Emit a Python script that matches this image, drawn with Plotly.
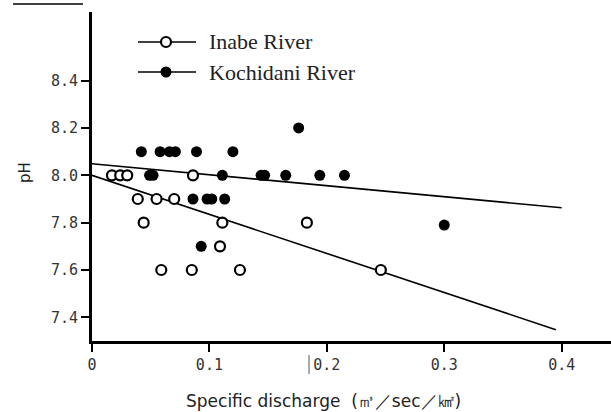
import plotly.graph_objects as go

# Inabe River (open circles)
inabe_x = [0.017, 0.024, 0.030, 0.086, 0.039, 0.055, 0.070, 0.044, 0.111, 0.109,
           0.059, 0.085, 0.126, 0.183, 0.246]
inabe_y = [8.0, 8.0, 8.0, 8.0, 7.9, 7.9, 7.9, 7.8, 7.8, 7.7,
           7.6, 7.6, 7.6, 7.8, 7.6]

# Kochidani River (filled circles)
koch_x = [0.042, 0.058, 0.066, 0.071, 0.089, 0.120, 0.049, 0.052, 0.111,
          0.086, 0.098, 0.102, 0.113, 0.093, 0.144, 0.147, 0.165, 0.176,
          0.194, 0.215, 0.300]
koch_y = [8.1, 8.1, 8.1, 8.1, 8.1, 8.1, 8.0, 8.0, 8.0,
          7.9, 7.9, 7.9, 7.9, 7.7, 8.0, 8.0, 8.0, 8.2,
          8.0, 8.0, 7.79]

# Regression lines (endpoints)
inabe_line_x = [0.0, 0.395]
inabe_line_y = [8.0, 7.348]
koch_line_x = [0.0, 0.40]
koch_line_y = [8.049, 7.863]

x_ticks = [0, 0.1, 0.2, 0.3, 0.4]
x_labels = ["0", "0.1", "0.2", "0.3", "0.4"]
y_ticks = [7.4, 7.6, 7.8, 8.0, 8.2, 8.4]
y_labels = ["7.4", "7.6", "7.8", "8.0", "8.2", "8.4"]

series_names = ["Inabe River", "Kochidani River"]

W, H = 611, 412
l, r, t, b = 92, 0, 12, 71
pw, ph = W - l - r, H - t - b


def px_x(p):
    return (p - l) / pw


def px_y(p):
    return (H - b - p) / ph


open_marker = dict(symbol="circle", size=10, color="white",
                   line=dict(color="black", width=2.2))
filled_marker = dict(symbol="circle", size=11, color="black",
                     line=dict(color="black", width=0))

fig = go.Figure()
fig.add_trace(go.Scatter(x=inabe_line_x, y=inabe_line_y, mode="lines",
                         line=dict(color="black", width=1.6), showlegend=False))
fig.add_trace(go.Scatter(x=koch_line_x, y=koch_line_y, mode="lines",
                         line=dict(color="black", width=1.6), showlegend=False))
fig.add_trace(go.Scatter(x=inabe_x, y=inabe_y, mode="markers", name=series_names[0],
                         marker=open_marker, showlegend=False))
fig.add_trace(go.Scatter(x=koch_x, y=koch_y, mode="markers", name=series_names[1],
                         marker=filled_marker, showlegend=False))

# Manual legend (line + marker + text), positioned in pixels
legend_rows = [(42, open_marker, series_names[0]), (72, filled_marker, series_names[1])]
shapes = []
annotations = []
for ypix, mk, name in legend_rows:
    shapes.append(dict(type="line", xref="paper", yref="paper",
                       x0=px_x(138), x1=px_x(196), y0=px_y(ypix), y1=px_y(ypix),
                       line=dict(color="black", width=1.6)))
    rad = 5.5
    if mk["color"] == "white":
        shapes.append(dict(type="circle", xref="paper", yref="paper",
                           x0=px_x(166 - 5), x1=px_x(166 + 5),
                           y0=px_y(ypix + 5), y1=px_y(ypix - 5),
                           fillcolor="white", line=dict(color="black", width=2.2)))
    else:
        shapes.append(dict(type="circle", xref="paper", yref="paper",
                           x0=px_x(166 - rad), x1=px_x(166 + rad),
                           y0=px_y(ypix + rad), y1=px_y(ypix - rad),
                           fillcolor="black", line=dict(color="black", width=0)))
    annotations.append(dict(text=name, x=px_x(207), y=px_y(ypix), xref="paper",
                            yref="paper", xanchor="left", yanchor="middle",
                            showarrow=False,
                            font=dict(family="Liberation Serif", size=22, color="#222")))

annotations.append(dict(text="pH", x=px_x(25), y=px_y(173), xref="paper", yref="paper",
                        xanchor="center", yanchor="middle", showarrow=False,
                        textangle=-90,
                        font=dict(family="DejaVu Sans", size=15, color="#222")))
annotations.append(dict(text="Specific discharge  (㎥／sec／㎢)", x=px_x(323), y=px_y(401),
                        xref="paper", yref="paper", xanchor="center", yanchor="middle",
                        showarrow=False,
                        font=dict(family="DejaVu Sans", size=17, color="#222")))

# scan artifacts
shapes.append(dict(type="line", xref="paper", yref="paper",
                   x0=px_x(13), x1=px_x(83), y0=px_y(4), y1=px_y(4),
                   line=dict(color="black", width=1.5)))
shapes.append(dict(type="line", xref="paper", yref="paper",
                   x0=px_x(309), x1=px_x(309), y0=px_y(355), y1=px_y(374),
                   line=dict(color="#555", width=1)))

tickfont = dict(family="DejaVu Sans Mono", size=15, color="#333")
fig.update_layout(
    width=W, height=H,
    margin=dict(l=l, r=r, t=t, b=b),
    paper_bgcolor="white", plot_bgcolor="white",
    showlegend=False,
    xaxis=dict(range=[0, 0.442], tickvals=x_ticks, ticktext=x_labels,
               showgrid=False, zeroline=False, showline=True, linecolor="black",
               linewidth=3, ticks="outside", ticklen=8, tickwidth=2, tickcolor="black",
               tickfont=tickfont),
    yaxis=dict(range=[7.3, 8.69], tickvals=y_ticks, ticktext=y_labels,
               showgrid=False, zeroline=False, showline=True, linecolor="black",
               linewidth=3, ticks="outside", ticklen=8, tickwidth=2, tickcolor="black",
               tickfont=tickfont),
    annotations=annotations,
    shapes=shapes,
)

fig.write_html("out.html")
